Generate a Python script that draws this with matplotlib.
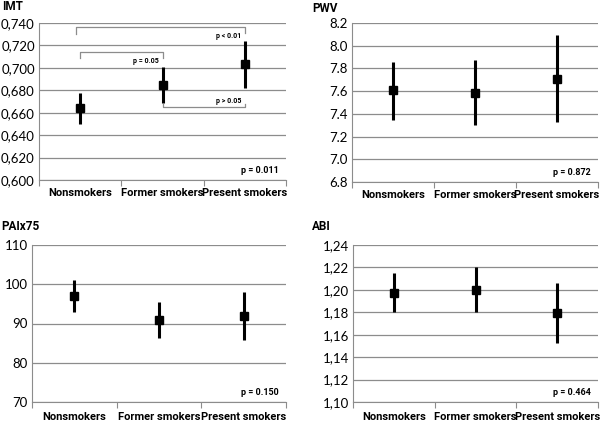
import matplotlib
matplotlib.use("Agg")
import matplotlib.pyplot as plt
from matplotlib.ticker import FuncFormatter

plt.rcParams['font.family'] = ['Lato', 'DejaVu Sans']

groups = ["Nonsmokers", "Former smokers", "Present smokers"]

imt_mean = [0.664, 0.685, 0.703]
imt_low = [0.650, 0.669, 0.682]
imt_high = [0.678, 0.701, 0.724]

pwv_mean = [7.61, 7.585, 7.71]
pwv_low = [7.35, 7.30, 7.33]
pwv_high = [7.86, 7.87, 8.09]

paix_mean = [97.0, 91.0, 92.0]
paix_low = [93.0, 86.2, 85.8]
paix_high = [101.0, 95.5, 98.0]

abi_mean = [1.197, 1.200, 1.179]
abi_low = [1.180, 1.180, 1.153]
abi_high = [1.215, 1.220, 1.206]

W, H = 600, 421
fig = plt.figure(figsize=(6, 4.21), dpi=100)
bold_family = ['Roboto', 'DejaVu Sans']

def comma(dec):
    return FuncFormatter(lambda v, p: ("%.*f" % (dec, v)).replace(".", ","))

def panel(rect, title, title_xy, mean, low, high, ylim, step, fmt, pval, xpad):
    l, t, r, b = rect
    ax = fig.add_axes([l / W, 1 - b / H, (r - l) / W, (b - t) / H])
    xs = [0.5, 1.5, 2.5]
    yerr = [[m - lo for m, lo in zip(mean, low)], [hi - m for m, hi in zip(mean, high)]]
    ax.errorbar(xs, mean, yerr=yerr, fmt='s', color='black', ms=6,
                elinewidth=2.2, capsize=0, zorder=3)
    ax.set_xlim(0, 3)
    ax.set_ylim(*ylim)
    ticks = []
    v = ylim[0]
    while v <= ylim[1] + step / 2:
        ticks.append(v)
        v += step
    ax.set_yticks(ticks)
    ax.yaxis.set_major_formatter(fmt)
    ax.grid(axis='y', color='#8c8c8c', lw=0.9)
    ax.set_axisbelow(True)
    for s in ['top', 'right']:
        ax.spines[s].set_visible(False)
    ax.spines['left'].set_color('#8c8c8c')
    ax.spines['bottom'].set_color('#8c8c8c')
    ax.set_xticks([0, 1, 2, 3])
    ax.set_xticklabels([])
    ax.set_xticks(xs, minor=True)
    ax.set_xticklabels(groups, minor=True, fontweight='bold', fontsize=8,
                       family=bold_family)
    ax.tick_params(axis='x', which='minor', length=0, pad=xpad)
    ax.tick_params(axis='x', which='major', length=4, color='#8c8c8c')
    ax.tick_params(axis='y', length=0, labelsize=9.5, pad=3)
    ax.text(0.97, 0.06, pval, transform=ax.transAxes, ha='right', va='center',
            fontsize=6.5, fontweight='bold', family=bold_family)
    fig.text(title_xy[0] / W, 1 - title_xy[1] / H, title, fontsize=8.5,
             fontweight='bold', ha='left', va='center', family=bold_family)
    return ax

ax1 = panel((39, 23, 286, 180), "IMT", (2, 7), imt_mean, imt_low, imt_high,
            (0.600, 0.740), 0.020, comma(3), "p = 0.011", 6)
panel((352, 23, 598, 182), "PWV", (312, 9), pwv_mean, pwv_low, pwv_high,
      (6.8, 8.2), 0.2, FuncFormatter(lambda v, p: "%.1f" % v), "p = 0.872", 6)
panel((32, 245, 286, 402), "PAIx75", (1, 227), paix_mean, paix_low, paix_high,
      (70, 110), 10, FuncFormatter(lambda v, p: "%d" % v), "p = 0.150", 7.5)
panel((353, 245, 598, 402), "ABI", (312, 227), abi_mean, abi_low, abi_high,
      (1.10, 1.24), 0.02, comma(2), "p = 0.464", 7.5)

# significance brackets on IMT
br = dict(color='#8c8c8c', lw=0.9)
sm = dict(fontsize=5, fontweight='bold', ha='center', va='center', family=bold_family)
ax1.plot([0.45, 0.45, 2.5, 2.5], [0.730, 0.736, 0.736, 0.731], **br)
ax1.text(2.3, 0.7285, "p < 0.01", **sm)
ax1.plot([0.5, 0.5, 1.5, 1.5], [0.709, 0.714, 0.714, 0.709], **br)
ax1.text(1.3, 0.7065, "p = 0.05", **sm)
ax1.plot([1.5, 1.5, 2.5, 2.5], [0.668, 0.665, 0.665, 0.668], **br)
ax1.text(2.3, 0.6705, "p > 0.05", **sm)

fig.savefig("out.png", dpi=100)
